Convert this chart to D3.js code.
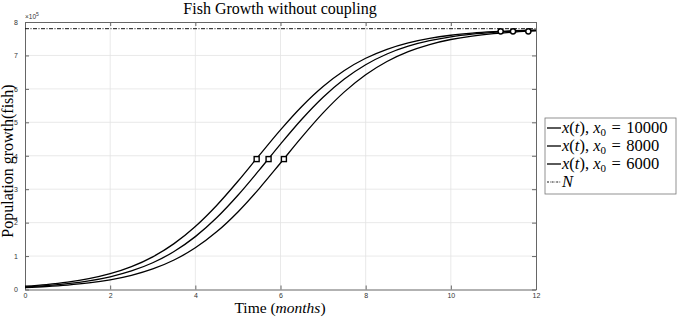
<!DOCTYPE html>
<html>
<head>
<meta charset="utf-8">
<script src="https://cdn.jsdelivr.net/npm/d3@7"></script>
<style>
  body { margin: 0; background: #fff; }
  svg { display: block; }
  .tick text { font-family: "Liberation Sans", Arial, sans-serif; font-size: 7px; fill: #333; }
</style>
</head>
<body>
<div class="chart-container"></div>
<script>
// data (population in fish)
const months = [0,0.5,1,1.5,2,2.5,3,3.5,4,4.5,5,5.5,6,6.5,7,7.5,8,8.5,9,9.5,10,10.5,11,11.5,12];
const pop10000 = [10000,14825,21911,32242,47141,68295,97680,137266,188465,251297,323611,400961,477447,547453,607127,654975,691526,718388,737599,751058,760360,766724,771051,773978,775953];
const pop8000 = [8000,11875,17583,25944,38080,55477,79965,113567,158103,214474,281843,357028,434742,509022,574861,629438,672217,704302,727582,744063,755541,763434,768817,772468,774935];
const pop6000 = [6000,8917,13228,19571,28841,42256,61403,88191,124635,172383,231950,301893,378347,455703,528087,591012,642319,682009,711478,732701,747649,758010,765123,769964,773244];
const carryingN = 780000;
const seriesNames = ["10000", "8000", "6000"];
// half-way points (squares) and 99% points (circles)
const halfT = [5.44, 5.72, 6.08];
const halfVal = [390000, 390000, 390000];
const nearT = [11.17, 11.46, 11.82];
const nearVal = [772200, 772200, 772200];
const xTicks = [0,2,4,6,8,10,12];
const yTicks = [0,1,2,3,4,5,6,7,8];

function draw(){
    const width = 677;
    const height = 318;
    const marginTop = 22;
    const marginLeft = 25;
    const plotRight = 536;
    const plotBottom = 289.5;

    const x = d3.scaleLinear().domain([0, 12]).range([marginLeft, plotRight]);
    const y = d3.scaleLinear().domain([0, 8e5]).range([plotBottom, marginTop]);

    const svg = d3.select('.chart-container').append("svg")
        .attr("width", width)
        .attr("height", height);

    // grid
    svg.append("g").selectAll("line.gx")
        .data(xTicks.slice(1, -1)).enter().append("line")
        .attr("x1", d=>x(d)).attr("x2", d=>x(d))
        .attr("y1", marginTop).attr("y2", plotBottom)
        .attr("stroke", "#e3e3e3").attr("stroke-width", 0.8);
    svg.append("g").selectAll("line.gy")
        .data(yTicks.slice(1, -1)).enter().append("line")
        .attr("y1", d=>y(d*1e5)).attr("y2", d=>y(d*1e5))
        .attr("x1", marginLeft).attr("x2", plotRight)
        .attr("stroke", "#e3e3e3").attr("stroke-width", 0.8);

    // axes
    svg.append("g")
        .attr("transform", `translate(0,${plotBottom})`)
        .call(d3.axisBottom(x).tickValues(xTicks).tickSizeInner(-4).tickSizeOuter(0).tickPadding(4))
        .call(g=>g.select(".domain").attr("stroke", "#999").attr("stroke-width", 1.6));
    svg.append("g")
        .attr("transform", `translate(0,${marginTop})`)
        .call(d3.axisTop(x).tickValues(xTicks).tickSizeInner(-4).tickSizeOuter(0).tickFormat(""))
        .call(g=>g.select(".domain").attr("stroke", "#666"));
    svg.append("g")
        .attr("transform", `translate(${marginLeft},0)`)
        .call(d3.axisLeft(y).tickValues(yTicks.map(d=>d*1e5)).tickSizeInner(-4).tickSizeOuter(0).tickPadding(7).tickFormat(d=>d/1e5))
        .call(g=>g.select(".domain").attr("stroke", "#666"));
    svg.append("g")
        .attr("transform", `translate(${plotRight},0)`)
        .call(d3.axisRight(y).tickValues(yTicks.map(d=>d*1e5)).tickSizeInner(-4).tickSizeOuter(0).tickFormat(""))
        .call(g=>g.select(".domain").attr("stroke", "#666"));
    svg.selectAll(".tick line").attr("stroke", "#666");

    // exponent label
    const expo = svg.append("text")
        .attr("x", marginLeft).attr("y", 19)
        .attr("font-family", "Liberation Sans, Arial, sans-serif")
        .attr("font-size", 6.5).attr("fill", "#333");
    expo.append("tspan").text("\u00d710");
    expo.append("tspan").attr("dy", -3).attr("font-size", 5).text("5");

    // carrying capacity line
    svg.append("line")
        .attr("x1", x(0)).attr("x2", x(12))
        .attr("y1", y(carryingN)).attr("y2", y(carryingN))
        .attr("stroke", "#111").attr("stroke-width", 1)
        .attr("stroke-dasharray", "4,1.5,1,1.5");

    // curves
    const line = d3.line()
        .x((d,i)=>x(months[i]))
        .y(d=>y(d))
        .curve(d3.curveMonotoneX);
    [pop10000, pop8000, pop6000].forEach(s=>{
        svg.append("path")
            .datum(s)
            .attr("d", line)
            .attr("fill", "none")
            .attr("stroke", "#000")
            .attr("stroke-width", 1.3);
    });

    // markers
    svg.selectAll("rect.half")
        .data(halfT).enter().append("rect")
        .attr("x", (d)=>x(d)-2.5)
        .attr("y", (d,i)=>y(halfVal[i])-2.5)
        .attr("width", 5).attr("height", 5)
        .attr("fill", "#fff").attr("stroke", "#000").attr("stroke-width", 1.4);
    svg.selectAll("circle.near")
        .data(nearT).enter().append("circle")
        .attr("cx", d=>x(d))
        .attr("cy", (d,i)=>y(nearVal[i]))
        .attr("r", 2.6)
        .attr("fill", "#fff").attr("stroke", "#000").attr("stroke-width", 1.5);

    // title and labels
    svg.append("text")
        .attr("x", 280).attr("y", 14)
        .attr("text-anchor", "middle")
        .attr("font-family", "Liberation Serif, serif")
        .attr("font-size", 16)
        .text("Fish Growth without coupling");

    const xl = svg.append("text")
        .attr("x", 280).attr("y", 313)
        .attr("text-anchor", "middle")
        .attr("font-family", "Liberation Serif, serif")
        .attr("font-size", 15.5);
    xl.append("tspan").text("Time (");
    xl.append("tspan").attr("font-style", "italic").text("months");
    xl.append("tspan").text(")");

    svg.append("text")
        .attr("transform", "translate(13,161) rotate(-90)")
        .attr("text-anchor", "middle")
        .attr("font-family", "Liberation Serif, serif")
        .attr("font-size", 16)
        .text("Population growth(fish)");

    // legend
    const lg = svg.append("g").attr("transform", "translate(545,118)");
    lg.append("rect")
        .attr("width", 131).attr("height", 76)
        .attr("fill", "#fff").attr("stroke", "#777").attr("stroke-width", 0.8);
    const entries = seriesNames.map(n=>({name: n, dash: null})).concat([{name: "N", dash: "2,1,0.6,1"}]);
    entries.forEach((e,i)=>{
        const yy = 10 + i*18;
        lg.append("line")
            .attr("x1", 2).attr("x2", 16)
            .attr("y1", yy).attr("y2", yy)
            .attr("stroke", "#000").attr("stroke-width", e.dash ? 0.9 : 1.3)
            .attr("stroke-dasharray", e.dash);
        const t = lg.append("text")
            .attr("x", 17).attr("y", yy + 5)
            .attr("font-family", "Liberation Serif, serif")
            .attr("font-size", 16.5);
        if (e.dash) {
            t.append("tspan").attr("font-style", "italic").text("N");
        } else {
            t.append("tspan").attr("font-style", "italic").text("x");
            t.append("tspan").text("(");
            t.append("tspan").attr("font-style", "italic").text("t");
            t.append("tspan").text("), ");
            t.append("tspan").attr("font-style", "italic").text("x");
            t.append("tspan").attr("font-size", 11).attr("dy", 3).text("0");
            t.append("tspan").attr("dy", -3).text("\u2004=\u2004" + e.name);
        }
    });
}

draw();
</script>
</body>
</html>
